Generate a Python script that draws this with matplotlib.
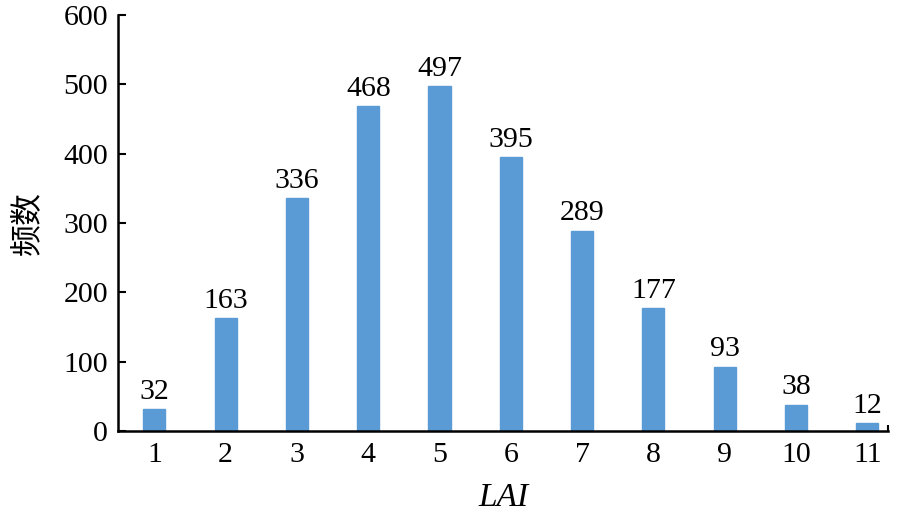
import matplotlib
matplotlib.use("Agg")
import matplotlib.pyplot as plt

categories = ["1", "2", "3", "4", "5", "6", "7", "8", "9", "10", "11"]
values = [32, 163, 336, 468, 497, 395, 289, 177, 93, 38, 12]
yticks = [0, 100, 200, 300, 400, 500, 600]

plt.rcParams['font.family'] = ['Liberation Serif', 'Noto Sans CJK SC']

fig = plt.figure(figsize=(9, 5.16), dpi=100)
ax = fig.add_axes([0.131, 0.1647, 0.856, 0.8063])

x = list(range(1, len(categories) + 1))
bars = ax.bar(x, values, width=0.31, color="#5B9BD5", edgecolor="#5B9BD5", zorder=2)
for xi, v in zip(x, values):
    ax.annotate(str(v), (xi, v), xytext=(0, 3), textcoords="offset points",
                ha="center", va="bottom", fontsize=21.5)

ax.set_xlim(0.488, 11.295)
ax.set_ylim(0, 600)
ax.set_yticks(yticks)
ax.set_xticks(x)
ax.set_xticklabels(categories)
ax.tick_params(axis="y", direction="in", length=6, width=1.5, pad=7, labelsize=21.5)
ax.tick_params(axis="x", length=0, pad=8, labelsize=21.5)
ax.set_xticks([11.295], minor=True)
ax.tick_params(axis="x", which="minor", direction="in", length=4, width=1.5)

for s in ["top", "right"]:
    ax.spines[s].set_visible(False)
for s in ["left", "bottom"]:
    ax.spines[s].set_linewidth(1.8)

ax.set_xlabel("LAI", fontsize=24, style="italic", labelpad=10)
ax.set_ylabel("频数", fontsize=23, labelpad=14)

fig.savefig("out.png", dpi=100)
